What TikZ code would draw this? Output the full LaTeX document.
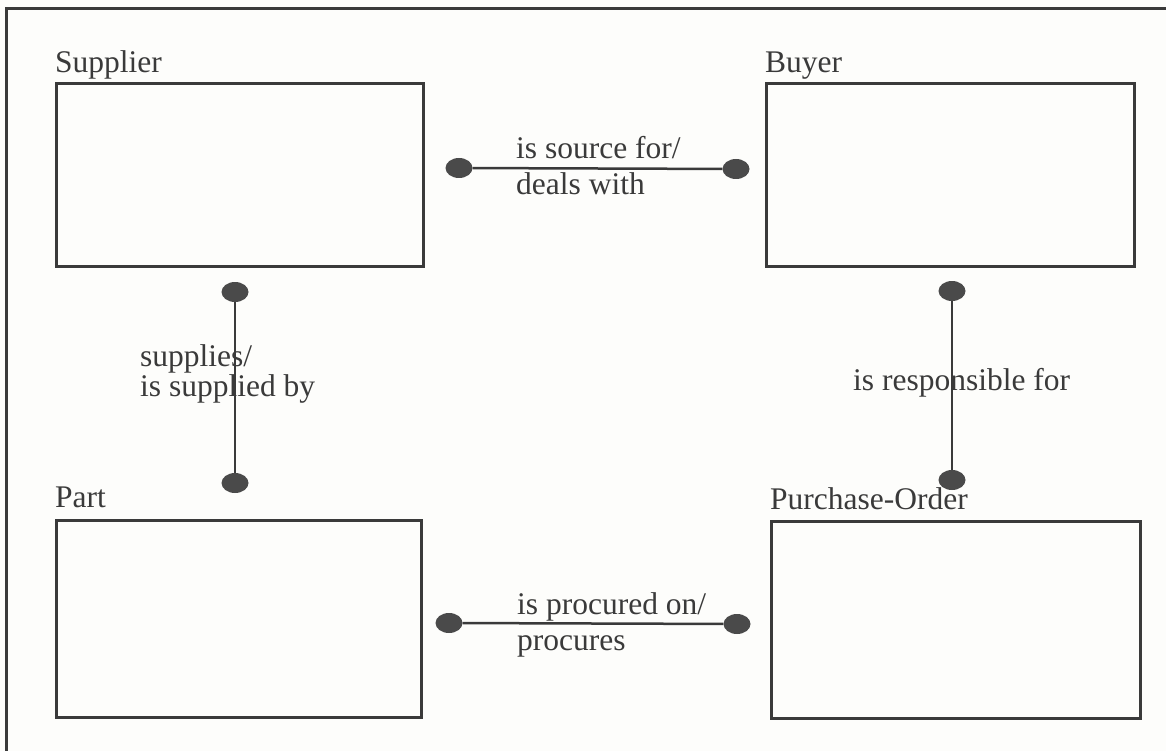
\documentclass[tikz,border=0pt]{standalone}
\usepackage{fontspec}
\setmainfont{Liberation Serif}
\usetikzlibrary{shapes.geometric}
\definecolor{ink}{HTML}{3A3A3A}
\definecolor{dotc}{HTML}{4A4A4A}
\definecolor{paper}{HTML}{FDFDFB}
\tikzset{
  entity/.style={draw=ink, line width=2.6pt, fill=none},
  lbl/.style={anchor=base west, inner sep=0pt, text=ink, font=\fontsize{31.5}{34}\selectfont},
  enddot/.style={ellipse, fill=dotc, draw=none, minimum width=27pt, minimum height=20pt, inner sep=0pt},
  rel/.style={draw=ink, line width=2.5pt}
}
\begin{document}
\begin{tikzpicture}[x=1pt,y=-1pt]
\useasboundingbox (0,0) rectangle (1166,751);
\fill[paper] (0,0) rectangle (1166,751);
\begin{scope}
\clip (0,0) rectangle (1166,751);
\draw[ink, line width=3pt] (1180,9) -- (6,9) -- (6,770);
\end{scope}
% entity boxes
\node[entity, minimum width=367pt, minimum height=183pt, anchor=north west, inner sep=0pt] (supplier) at (55,82) {};
\node[entity, minimum width=368pt, minimum height=183pt, anchor=north west, inner sep=0pt] (buyer) at (765,82) {};
\node[entity, minimum width=365pt, minimum height=197pt, anchor=north west, inner sep=0pt] (part) at (55,519) {};
\node[entity, minimum width=369pt, minimum height=197pt, anchor=north west, inner sep=0pt] (po) at (770,520) {};
% entity names
\node[lbl] (tsupplier) at (55,73) {Supplier};
\node[lbl] (tbuyer) at (765,73) {Buyer};
\node[lbl] (tpart) at (55,507) {Part};
\node[lbl] (tpo) at (770,509) {Purchase-Order};
% relationship end dots
\node[enddot] (d1) at (459,168) {};
\node[enddot] (d2) at (736,169) {};
\node[enddot] (d3) at (235,292) {};
\node[enddot] (d4) at (235,483) {};
\node[enddot] (d5) at (952,291) {};
\node[enddot] (d6) at (952,480) {};
\node[enddot] (d7) at (449,623) {};
\node[enddot] (d8) at (737,624) {};
% relationship lines
\draw[rel] (d1) -- (d2);
\draw[rel] (d3) -- (d4);
\draw[rel] (d5) -- (d6);
\draw[rel] (d7) -- (d8);
% relationship labels
\node[lbl] (r1a) at (516,159) {is source for/};
\node[lbl] (r1b) at (516,195) {deals with};
\node[lbl] (r2a) at (140,366) {supplies/};
\node[lbl] (r2b) at (140,396) {is supplied by};
\node[lbl] (r3) at (853,390) {is responsible for};
\node[lbl] (r4a) at (517,614) {is procured on/};
\node[lbl] (r4b) at (517,650) {procures};
\end{tikzpicture}
\end{document}
